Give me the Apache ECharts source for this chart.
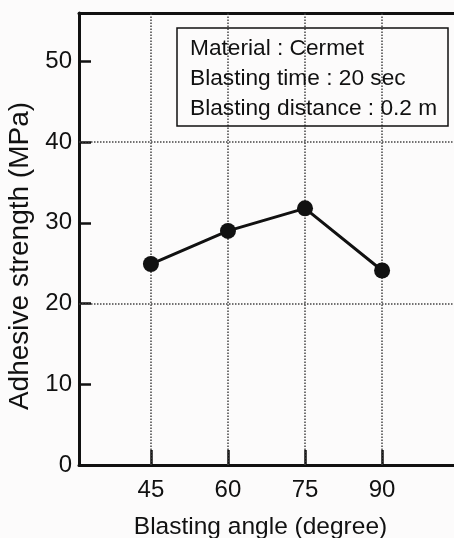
<!DOCTYPE html>
<html>
<head>
<meta charset="utf-8">
<script src="https://cdn.jsdelivr.net/npm/echarts@6/dist/echarts.min.js"></script>
<style>
  html, body { margin: 0; padding: 0; background: #fcfbfb; }
  #chart { width: 454px; height: 538px; }
</style>
</head>
<body>
<div id="chart"></div>
<script>
// data
const angles = [45, 60, 75, 90];
const strength = [24.9, 29.0, 31.8, 24.1];
const angleTicks = [45, 60, 75, 90];
const gridY = [20, 40];
const noteLines = ['Material : Cermet', 'Blasting time : 20 sec', 'Blasting distance : 0.2 m'];

const chart = echarts.init(document.getElementById('chart'));
const font = 'Liberation Sans, Arial, sans-serif';
const ink = '#111';
const dots = { type: 'dotted', color: '#444', width: 1.5 };

const options = {
  backgroundColor: '#fcfbfb',
  animation: false,
  title: {
    text: noteLines.join('\n'),
    left: 177,
    top: 28,
    padding: [6, 11, 2, 13],
    borderColor: ink,
    borderWidth: 1.5,
    textStyle: { fontFamily: font, fontSize: 22.7, fontWeight: 'normal', color: ink, lineHeight: 30 }
  },
  grid: { left: 79, top: 13, right: 0, bottom: 73, outerBoundsMode: 'none' },
  xAxis: [
    {
      type: 'value',
      min: 31,
      max: 104,
      name: 'Blasting angle (degree)',
      nameLocation: 'middle',
      nameGap: 50,
      nameTextStyle: { fontFamily: font, fontSize: 24.5, color: ink, padding: [0, 12, 0, 0] },
      axisLine: { lineStyle: { color: ink, width: 3 } },
      axisTick: { inside: true, length: 15, lineStyle: { color: ink, width: 2.5 }, customValues: angleTicks },
      axisLabel: { fontFamily: font, fontSize: 24, color: ink, margin: 13, customValues: angleTicks },
      splitLine: { show: false }
    },
    {
      type: 'value',
      position: 'top',
      min: 31,
      max: 104,
      axisLine: { show: true, lineStyle: { color: ink, width: 3 } },
      axisTick: { show: false },
      axisLabel: { show: false },
      splitLine: { show: false }
    }
  ],
  yAxis: {
    type: 'value',
    min: 0,
    max: 56,
    interval: 10,
    name: 'Adhesive strength (MPa)',
    nameLocation: 'middle',
    nameGap: 44,
    nameTextStyle: { fontFamily: font, fontSize: 28, color: ink, padding: [0, 34, 0, 0] },
    axisLine: { show: true, lineStyle: { color: ink, width: 3 } },
    axisTick: { inside: true, length: 12, lineStyle: { color: ink, width: 2.5 } },
    axisLabel: {
      fontFamily: font, fontSize: 24, color: ink, margin: 7,
      formatter: v => (v % 10 === 0 ? String(v) : '')
    },
    splitLine: { show: false }
  },
  series: [{
    type: 'line',
    data: angles.map((a, i) => [a, strength[i]]),
    symbol: 'circle',
    symbolSize: 16,
    itemStyle: { color: ink },
    lineStyle: { color: ink, width: 3 },
    z: 5,
    markLine: {
      silent: true,
      symbol: 'none',
      label: { show: false },
      lineStyle: dots,
      data: gridY.map(v => ({ yAxis: v })).concat(angleTicks.map(v => ({ xAxis: v })))
    }
  }]
};

chart.setOption(options);
</script>
</body>
</html>
